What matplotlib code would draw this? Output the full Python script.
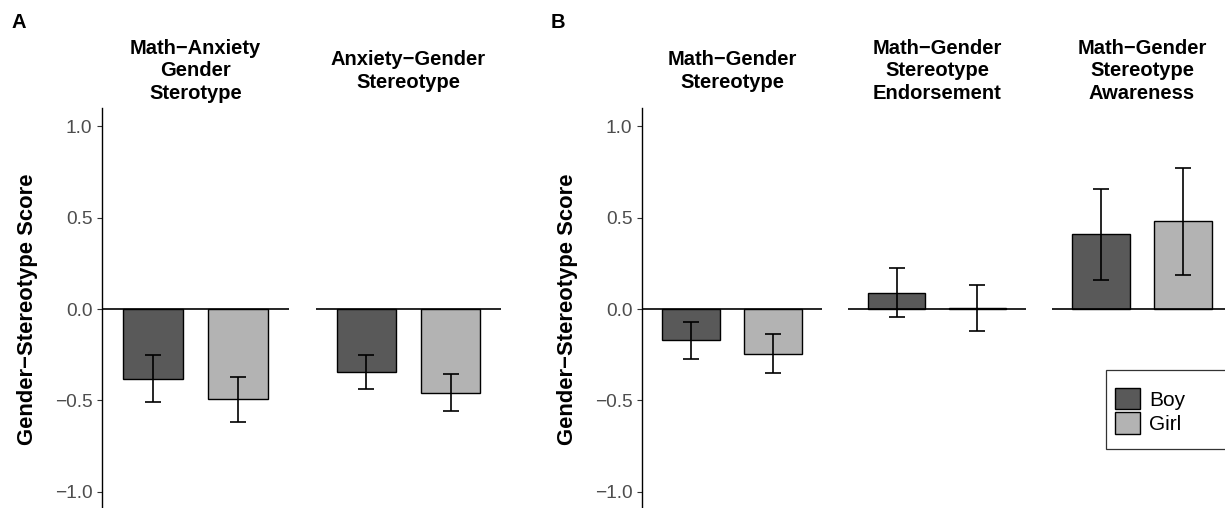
import matplotlib.pyplot as plt
from matplotlib.patches import Patch, Rectangle

plt.rcParams['font.family'] = ['Liberation Sans', 'DejaVu Sans']

W, H = 1225, 508

genders = ['Boy', 'Girl']
colors = ['#595959', '#B3B3B3']

# panel A
titles_a = ['Math\u2212Anxiety\nGender\nSterotype', 'Anxiety\u2212Gender\nStereotype']
means_a = [[-0.382, -0.495], [-0.347, -0.458]]
errs_a = [[0.129, 0.124], [0.093, 0.102]]

# panel B
titles_b = ['Math\u2212Gender\nStereotype', 'Math\u2212Gender\nStereotype\nEndorsement',
            'Math\u2212Gender\nStereotype\nAwareness']
means_b = [[-0.172, -0.244], [0.089, 0.005], [0.41, 0.48]]
errs_b = [[0.099, 0.107], [0.133, 0.127], [0.249, 0.292]]

yticks = [-1.0, -0.5, 0.0, 0.5, 1.0]

fig = plt.figure(figsize=(W / 100, H / 100), dpi=100)


def facet(x0, x1, title, means, errs, first):
    ax = fig.add_axes([x0 / W, (H - 510) / H, (x1 - x0) / W, 402 / H])
    xs = [0, 1]
    ax.bar(xs, means, width=0.7, color=colors, edgecolor='black', linewidth=1.0, zorder=2)
    ax.errorbar(xs, means, yerr=errs, fmt='none', ecolor='black', elinewidth=1.2,
                capsize=6, capthick=1.2, zorder=3)
    ax.axhline(0, color='black', linewidth=1.2, zorder=4)
    ax.set_xlim(-0.6, 1.6)
    ax.set_ylim(-1.1, 1.1)
    ax.set_xticks([])
    for s in ['top', 'right', 'bottom']:
        ax.spines[s].set_visible(False)
    if first:
        ax.spines['left'].set_color('black')
        ax.spines['left'].set_linewidth(1.0)
        ax.set_yticks(yticks)
        ax.set_yticklabels([f'{t:.1f}'.replace('-', '\u2212') for t in yticks])
        ax.tick_params(axis='y', length=3.5, width=0.8, color='#333333', pad=3.5,
                       labelsize=13.8, labelcolor='#4D4D4D')
        ax.set_ylabel('Gender\u2212Stereotype Score', fontsize=15.8, fontweight='bold',
                      labelpad=12)
    else:
        ax.spines['left'].set_visible(False)
        ax.set_yticks([])
    fig.text((x0 + x1) / 2 / W, (H - 71) / H, title, ha='center', va='center',
             fontsize=14.5, fontweight='bold', linespacing=1.22, multialignment='center')
    ax.patch.set_alpha(0)
    return ax


facets_a = [(102, 289), (316, 501)]
for i, (x0, x1) in enumerate(facets_a):
    facet(x0, x1, titles_a[i], means_a[i], errs_a[i], i == 0)

facets_b = [(642, 822), (848, 1026), (1052, 1232)]
for i, (x0, x1) in enumerate(facets_b):
    facet(x0, x1, titles_b[i], means_b[i], errs_b[i], i == 0)

fig.text(12 / W, (H - 13) / H, 'A', ha='left', va='top', fontsize=14.5, fontweight='bold')
fig.text(551 / W, (H - 13) / H, 'B', ha='left', va='top', fontsize=14.5, fontweight='bold')

# legend box
fig.patches.append(Rectangle((1106 / W, (H - 449) / H), 140 / W, 79 / H,
                             transform=fig.transFigure, facecolor='white',
                             edgecolor='#333333', linewidth=0.9, zorder=5))
handles = [Patch(facecolor=c, edgecolor='black', linewidth=1.0) for c in colors]
leg = fig.legend(handles, genders, loc='upper left',
                 bbox_to_anchor=(1115 / W, (H - 388) / H), frameon=False,
                 borderpad=0, borderaxespad=0, fontsize=15, handlelength=1.2,
                 handleheight=1.2, labelspacing=0.12, handletextpad=0.45)
leg.set_zorder(6)

fig.savefig('out.png', dpi=100)
